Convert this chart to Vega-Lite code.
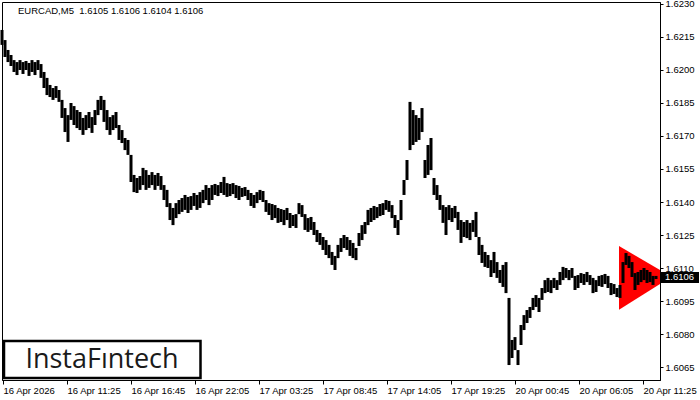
{
  "$schema": "https://vega.github.io/schema/vega-lite/v6.json",
  "width": 658,
  "height": 378,
  "autosize": "none",
  "padding": {"left": 2, "top": 2, "right": 40, "bottom": 20},
  "background": "white",
  "config": {
    "view": {"stroke": "black", "strokeWidth": 1},
    "axis": {"domainColor": "black", "tickColor": "black", "labelColor": "black", "labelFont": "Liberation Sans", "labelFontSize": 9.5, "grid": false, "title": null, "labelOverlap": false, "labelBound": false, "labelFlush": false}
  },
  "datasets": {
    "bars": [
      {"i":0,"h":1.62182,"l":1.62114},{"i":3,"h":1.62136,"l":1.62059},{"i":6,"h":1.62091,"l":1.62036},{"i":9,"h":1.62068,"l":1.62018},
      {"i":12,"h":1.62045,"l":1.61991},{"i":15,"h":1.62036,"l":1.61977},{"i":18,"h":1.62045,"l":1.62000},{"i":21,"h":1.62036,"l":1.61982},
      {"i":24,"h":1.62041,"l":1.62000},{"i":27,"h":1.62032,"l":1.61973},{"i":30,"h":1.62045,"l":1.61991},{"i":33,"h":1.62036,"l":1.61977},
      {"i":36,"h":1.62045,"l":1.62000},{"i":39,"h":1.62027,"l":1.61964},{"i":42,"h":1.61991,"l":1.61918},{"i":45,"h":1.61964,"l":1.61886},
      {"i":48,"h":1.61932,"l":1.61877},{"i":51,"h":1.61918,"l":1.61864},{"i":54,"h":1.61927,"l":1.61873},{"i":57,"h":1.61909,"l":1.61855},
      {"i":60,"h":1.61864,"l":1.61782},{"i":63,"h":1.61827,"l":1.61718},{"i":66,"h":1.61795,"l":1.61673},{"i":69,"h":1.61850,"l":1.61773},
      {"i":72,"h":1.61836,"l":1.61750},{"i":75,"h":1.61818,"l":1.61736},{"i":78,"h":1.61809,"l":1.61727},{"i":81,"h":1.61782,"l":1.61705},
      {"i":84,"h":1.61795,"l":1.61727},{"i":87,"h":1.61809,"l":1.61736},{"i":90,"h":1.61786,"l":1.61714},{"i":93,"h":1.61818,"l":1.61750},
      {"i":96,"h":1.61864,"l":1.61795},{"i":99,"h":1.61882,"l":1.61818},{"i":102,"h":1.61864,"l":1.61764},{"i":105,"h":1.61818,"l":1.61727},
      {"i":108,"h":1.61786,"l":1.61705},{"i":111,"h":1.61795,"l":1.61727},{"i":114,"h":1.61809,"l":1.61736},{"i":117,"h":1.61750,"l":1.61682},
      {"i":120,"h":1.61727,"l":1.61668},{"i":123,"h":1.61691,"l":1.61636},{"i":126,"h":1.61682,"l":1.61614},{"i":129,"h":1.61614,"l":1.61491},
      {"i":132,"h":1.61523,"l":1.61445},{"i":135,"h":1.61509,"l":1.61441},{"i":138,"h":1.61518,"l":1.61455},{"i":141,"h":1.61555,"l":1.61477},
      {"i":144,"h":1.61545,"l":1.61455},{"i":147,"h":1.61523,"l":1.61464},{"i":150,"h":1.61536,"l":1.61477},{"i":153,"h":1.61523,"l":1.61455},
      {"i":156,"h":1.61532,"l":1.61473},{"i":159,"h":1.61518,"l":1.61455},{"i":162,"h":1.61477,"l":1.61409},{"i":165,"h":1.61455,"l":1.61377},
      {"i":168,"h":1.61395,"l":1.61318},{"i":171,"h":1.61373,"l":1.61295},{"i":174,"h":1.61395,"l":1.61327},{"i":177,"h":1.61409,"l":1.61345},
      {"i":180,"h":1.61418,"l":1.61355},{"i":183,"h":1.61432,"l":1.61364},{"i":186,"h":1.61423,"l":1.61350},{"i":189,"h":1.61427,"l":1.61364},
      {"i":192,"h":1.61441,"l":1.61382},{"i":195,"h":1.61432,"l":1.61364},{"i":198,"h":1.61445,"l":1.61373},{"i":201,"h":1.61455,"l":1.61395},
      {"i":204,"h":1.61477,"l":1.61409},{"i":207,"h":1.61464,"l":1.61386},{"i":210,"h":1.61477,"l":1.61409},{"i":213,"h":1.61482,"l":1.61432},
      {"i":216,"h":1.61477,"l":1.61427},{"i":219,"h":1.61491,"l":1.61441},{"i":222,"h":1.61514,"l":1.61432},{"i":225,"h":1.61486,"l":1.61423},
      {"i":228,"h":1.61482,"l":1.61427},{"i":231,"h":1.61486,"l":1.61436},{"i":234,"h":1.61477,"l":1.61418},{"i":237,"h":1.61473,"l":1.61409},
      {"i":240,"h":1.61464,"l":1.61423},{"i":243,"h":1.61468,"l":1.61427},{"i":246,"h":1.61455,"l":1.61409},{"i":249,"h":1.61441,"l":1.61382},
      {"i":252,"h":1.61432,"l":1.61373},{"i":255,"h":1.61445,"l":1.61395},{"i":258,"h":1.61455,"l":1.61409},{"i":261,"h":1.61450,"l":1.61400},
      {"i":264,"h":1.61409,"l":1.61355},{"i":267,"h":1.61395,"l":1.61341},{"i":270,"h":1.61391,"l":1.61318},{"i":273,"h":1.61386,"l":1.61327},
      {"i":276,"h":1.61373,"l":1.61305},{"i":279,"h":1.61368,"l":1.61309},{"i":282,"h":1.61364,"l":1.61295},{"i":285,"h":1.61373,"l":1.61318},
      {"i":288,"h":1.61350,"l":1.61282},{"i":291,"h":1.61341,"l":1.61291},{"i":294,"h":1.61345,"l":1.61282},{"i":297,"h":1.61395,"l":1.61345},
      {"i":300,"h":1.61386,"l":1.61332},{"i":303,"h":1.61345,"l":1.61273},{"i":306,"h":1.61327,"l":1.61264},{"i":309,"h":1.61332,"l":1.61273},
      {"i":312,"h":1.61309,"l":1.61250},{"i":315,"h":1.61273,"l":1.61218},{"i":318,"h":1.61259,"l":1.61205},{"i":321,"h":1.61241,"l":1.61182},
      {"i":324,"h":1.61227,"l":1.61159},{"i":327,"h":1.61205,"l":1.61145},{"i":330,"h":1.61173,"l":1.61114},{"i":333,"h":1.61155,"l":1.61091},
      {"i":336,"h":1.61205,"l":1.61145},{"i":339,"h":1.61236,"l":1.61173},{"i":342,"h":1.61250,"l":1.61191},{"i":345,"h":1.61241,"l":1.61182},
      {"i":348,"h":1.61227,"l":1.61155},{"i":351,"h":1.61214,"l":1.61145},{"i":354,"h":1.61191,"l":1.61136},{"i":357,"h":1.61259,"l":1.61200},
      {"i":360,"h":1.61295,"l":1.61227},{"i":363,"h":1.61309,"l":1.61255},{"i":366,"h":1.61364,"l":1.61295},{"i":369,"h":1.61373,"l":1.61309},
      {"i":372,"h":1.61382,"l":1.61318},{"i":375,"h":1.61377,"l":1.61327},{"i":378,"h":1.61391,"l":1.61336},{"i":381,"h":1.61395,"l":1.61341},
      {"i":384,"h":1.61409,"l":1.61364},{"i":387,"h":1.61405,"l":1.61355},{"i":390,"h":1.61386,"l":1.61327},{"i":393,"h":1.61341,"l":1.61282},
      {"i":396,"h":1.61318,"l":1.61250},{"i":399,"h":1.61409,"l":1.61318},{"i":402,"h":1.61500,"l":1.61432},{"i":405,"h":1.61591,"l":1.61500},
      {"i":408,"h":1.61855,"l":1.61636},{"i":411,"h":1.61818,"l":1.61659},{"i":414,"h":1.61795,"l":1.61673},{"i":417,"h":1.61782,"l":1.61682},
      {"i":420,"h":1.61827,"l":1.61718},{"i":423,"h":1.61591,"l":1.61509},{"i":426,"h":1.61659,"l":1.61523},{"i":429,"h":1.61691,"l":1.61545},
      {"i":432,"h":1.61509,"l":1.61432},{"i":435,"h":1.61477,"l":1.61409},{"i":438,"h":1.61432,"l":1.61364},{"i":441,"h":1.61386,"l":1.61305},
      {"i":444,"h":1.61377,"l":1.61250},{"i":447,"h":1.61386,"l":1.61318},{"i":450,"h":1.61373,"l":1.61309},{"i":453,"h":1.61382,"l":1.61327},
      {"i":456,"h":1.61355,"l":1.61273},{"i":459,"h":1.61318,"l":1.61214},{"i":462,"h":1.61309,"l":1.61241},{"i":465,"h":1.61318,"l":1.61236},
      {"i":468,"h":1.61305,"l":1.61227},{"i":471,"h":1.61318,"l":1.61264},{"i":474,"h":1.61355,"l":1.61241},{"i":477,"h":1.61241,"l":1.61159},
      {"i":480,"h":1.61205,"l":1.61123},{"i":483,"h":1.61173,"l":1.61105},{"i":486,"h":1.61159,"l":1.61100},{"i":489,"h":1.61136,"l":1.61059},
      {"i":492,"h":1.61173,"l":1.61077},{"i":495,"h":1.61127,"l":1.61055},{"i":498,"h":1.61091,"l":1.61032},{"i":501,"h":1.61114,"l":1.61014},
      {"i":504,"h":1.61127,"l":1.60986},{"i":507,"h":1.60964,"l":1.60659},{"i":510,"h":1.60773,"l":1.60691},{"i":513,"h":1.60786,"l":1.60727},
      {"i":516,"h":1.60727,"l":1.60659},{"i":519,"h":1.60841,"l":1.60750},{"i":522,"h":1.60886,"l":1.60818},{"i":525,"h":1.60909,"l":1.60850},
      {"i":528,"h":1.60923,"l":1.60873},{"i":531,"h":1.60964,"l":1.60909},{"i":534,"h":1.60977,"l":1.60923},{"i":537,"h":1.60964,"l":1.60900},
      {"i":540,"h":1.61009,"l":1.60955},{"i":543,"h":1.61045,"l":1.60986},{"i":546,"h":1.61055,"l":1.60991},{"i":549,"h":1.61045,"l":1.60986},
      {"i":552,"h":1.61055,"l":1.61009},{"i":555,"h":1.61045,"l":1.61000},{"i":558,"h":1.61082,"l":1.61023},{"i":561,"h":1.61105,"l":1.61045},
      {"i":564,"h":1.61100,"l":1.61055},{"i":567,"h":1.61091,"l":1.61045},{"i":570,"h":1.61100,"l":1.61055},{"i":573,"h":1.61064,"l":1.61000},
      {"i":576,"h":1.61068,"l":1.61009},{"i":579,"h":1.61077,"l":1.61032},{"i":582,"h":1.61073,"l":1.61023},{"i":585,"h":1.61082,"l":1.61036},
      {"i":588,"h":1.61068,"l":1.61023},{"i":591,"h":1.61055,"l":1.60986},{"i":594,"h":1.61045,"l":1.60991},{"i":597,"h":1.61064,"l":1.61018},
      {"i":600,"h":1.61068,"l":1.61014},{"i":603,"h":1.61073,"l":1.61027},{"i":606,"h":1.61064,"l":1.61009},{"i":609,"h":1.61032,"l":1.60977},
      {"i":612,"h":1.61027,"l":1.60982},{"i":615,"h":1.61009,"l":1.60968},{"i":618,"h":1.61023,"l":1.60964},{"i":621,"h":1.61127,"l":1.61032},
      {"i":624,"h":1.61168,"l":1.61114},{"i":627,"h":1.61155,"l":1.61100},{"i":630,"h":1.61127,"l":1.61059},{"i":633,"h":1.61077,"l":1.61000},
      {"i":636,"h":1.61082,"l":1.61023},{"i":639,"h":1.61091,"l":1.61036},{"i":642,"h":1.61100,"l":1.61045},{"i":645,"h":1.61091,"l":1.61032},
      {"i":648,"h":1.61082,"l":1.61036},{"i":651,"h":1.61064,"l":1.61023},{"i":654,"h":1.61064,"l":1.61050}
    ],
    "triangle": [
      {"i": 617, "top": 1.6120, "bot": 1.6091},
      {"i": 669.5, "top": 1.6106, "bot": 1.6106}
    ],
    "logo": [{"i1": 2, "i2": 198.5, "p1": 1.60768, "p2": 1.60600, "ti": 100, "tp": 1.60645, "label": "InstaFıntech"}],
    "header": [{"i": 16, "p": 1.62268, "label": "EURCAD,M5\u00a0 1.6105 1.6106 1.6104 1.6106"}],
    "pricebox": [{"i1": 658, "i2": 697, "p1": 1.61082, "p2": 1.61032, "ti": 663, "tp": 1.6106, "label": "1.6106"}]
  },
  "layer": [
    {
      "data": {"name": "bars"},
      "mark": {"type": "rule", "color": "black", "strokeWidth": 3},
      "encoding": {
        "x": {
          "field": "i", "type": "quantitative",
          "scale": {"domain": [0, 658], "nice": false, "zero": false},
          "axis": {
            "orient": "bottom", "title": null,
            "values": [1, 65, 129, 193, 257, 321, 385, 449, 513, 577, 641],
            "tickCount": 30,
            "labelExpr": "['16 Apr 2026','16 Apr 11:25','16 Apr 16:45','16 Apr 22:05','17 Apr 03:25','17 Apr 08:45','17 Apr 14:05','17 Apr 19:25','20 Apr 00:45','20 Apr 06:05','20 Apr 11:25'][round((datum.value - 1) / 64)]",
            "labelAlign": "left", "labelFlush": false, "labelOverlap": false, "labelBound": false,
            "tickSize": 4, "labelPadding": 1, "domainWidth": 1
          }
        },
        "y": {
          "field": "h", "type": "quantitative",
          "scale": {"domain": [1.60591, 1.62309], "nice": false, "zero": false},
          "axis": {
            "orient": "right", "title": null,
            "values": [1.6065, 1.608, 1.6095, 1.611, 1.6125, 1.614, 1.6155, 1.617, 1.6185, 1.62, 1.6215, 1.623],
            "tickCount": 30,
            "format": ".4f", "tickSize": 3, "labelPadding": 2, "labelOverlap": false, "labelBound": false, "labelFlush": false
          }
        },
        "y2": {"field": "l"},
        "opacity": {"value": 0}
      }
    },
    {
      "data": {"name": "triangle"},
      "mark": {"type": "area", "color": "#ff0000", "clip": true, "opacity": 1},
      "encoding": {
        "x": {"field": "i", "type": "quantitative"},
        "y": {"field": "top", "type": "quantitative"},
        "y2": {"field": "bot"}
      }
    },
    {
      "mark": {"type": "rule", "color": "black", "strokeWidth": 1},
      "encoding": {
        "y": {"datum": 1.6106, "type": "quantitative"}
      }
    },
    {
      "data": {"name": "bars"},
      "mark": {"type": "rule", "color": "black", "strokeWidth": 3},
      "encoding": {
        "x": {"field": "i", "type": "quantitative"},
        "y": {"field": "h", "type": "quantitative"},
        "y2": {"field": "l"}
      }
    },
    {
      "data": {"name": "logo"},
      "mark": {"type": "rect", "fill": "white", "stroke": "black", "strokeWidth": 2.5},
      "encoding": {
        "x": {"field": "i1", "type": "quantitative"},
        "x2": {"field": "i2"},
        "y": {"field": "p1", "type": "quantitative"},
        "y2": {"field": "p2"}
      }
    },
    {
      "data": {"name": "logo"},
      "mark": {"type": "text", "font": "Open Sans", "fontSize": 27, "fontWeight": 500, "align": "center", "baseline": "alphabetic", "color": "#1a1a1a"},
      "encoding": {
        "x": {"field": "ti", "type": "quantitative"},
        "y": {"field": "tp", "type": "quantitative"},
        "text": {"field": "label"}
      }
    },
    {
      "data": {"name": "header"},
      "mark": {"type": "text", "font": "Liberation Sans", "fontSize": 9.5, "align": "left", "baseline": "middle", "color": "black"},
      "encoding": {
        "x": {"field": "i", "type": "quantitative"},
        "y": {"field": "p", "type": "quantitative"},
        "text": {"field": "label"}
      }
    },
    {
      "data": {"name": "pricebox"},
      "mark": {"type": "rect", "fill": "black", "clip": false},
      "encoding": {
        "x": {"field": "i1", "type": "quantitative"},
        "x2": {"field": "i2"},
        "y": {"field": "p1", "type": "quantitative"},
        "y2": {"field": "p2"}
      }
    },
    {
      "data": {"name": "pricebox"},
      "mark": {"type": "text", "font": "Liberation Sans", "fontSize": 9.5, "align": "left", "baseline": "middle", "color": "white", "clip": false},
      "encoding": {
        "x": {"field": "ti", "type": "quantitative"},
        "y": {"field": "tp", "type": "quantitative"},
        "text": {"field": "label"}
      }
    }
  ]
}
